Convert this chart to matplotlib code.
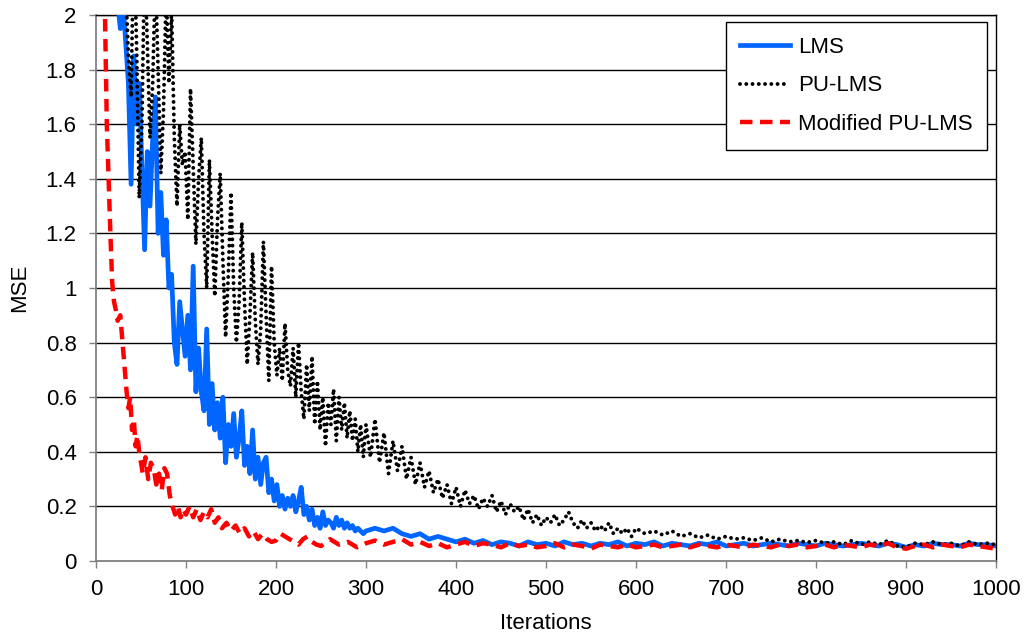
import matplotlib
matplotlib.use("Agg")
import matplotlib.pyplot as plt

plt.rcParams['font.family'] = ['Liberation Sans', 'DejaVu Sans']

# ---------------- data ----------------
lms_iter = [18, 21, 24, 27, 30, 33, 36, 39, 42, 45, 48, 51, 54, 57, 60, 63, 66, 69, 72, 75,
            78, 81, 84, 87, 90, 93, 96, 99, 102, 105, 108, 111, 114, 117, 120, 123, 126, 129,
            132, 135, 138, 141, 144, 147, 150, 153, 156, 159, 162, 165, 168, 171, 174, 177,
            180, 183, 186, 189, 192, 195, 198, 201, 204, 207, 210, 213, 216, 219, 222, 225,
            228, 231, 234, 237, 240, 243, 246, 249, 252, 255, 258, 261, 264, 267, 270, 273,
            276, 279, 282, 285, 288, 291, 294, 297,
            300, 310, 320, 330, 340, 350, 360, 370, 380, 390, 400, 410, 420, 430, 440, 450,
            460, 470, 480, 490, 500, 510, 520, 530, 540, 550, 560, 570, 580, 590, 600, 610,
            620, 630, 640, 650, 660, 670, 680, 690, 700, 710, 720, 730, 740, 750, 760, 770,
            780, 790, 800, 810, 820, 830, 840, 850, 860, 870, 880, 890, 900, 910, 920, 930,
            940, 950, 960, 970, 980, 990, 1000]
lms_mse = [2.5, 2.3, 2.05, 1.95, 2.05, 1.9, 1.75, 1.38, 1.85, 1.6, 1.75, 1.45, 1.14, 1.5, 1.3,
           1.55, 1.70, 1.2, 1.35, 1.12, 1.25, 1.0, 1.05, 0.8, 0.72, 0.95, 0.85, 0.75, 0.9, 0.7,
           1.08, 0.62, 0.78, 0.62, 0.55, 0.85, 0.5, 0.65, 0.48, 0.58, 0.45, 0.6, 0.36, 0.5,
           0.42, 0.54, 0.38, 0.45, 0.55, 0.35, 0.42, 0.32, 0.48, 0.3, 0.38, 0.28, 0.36, 0.38,
           0.25, 0.3, 0.22, 0.28, 0.2, 0.24, 0.19, 0.23, 0.2, 0.24, 0.18, 0.22, 0.27, 0.17,
           0.2, 0.15, 0.19, 0.13, 0.16, 0.12, 0.18, 0.13, 0.15, 0.14, 0.12, 0.16, 0.13, 0.15,
           0.12, 0.14, 0.12, 0.13, 0.11, 0.12, 0.11, 0.10,
           0.11, 0.12, 0.11, 0.12, 0.10, 0.09, 0.10, 0.08, 0.09, 0.08, 0.07, 0.08, 0.065,
           0.075, 0.06, 0.07, 0.065, 0.055, 0.07, 0.06, 0.065, 0.055, 0.07, 0.06, 0.065,
           0.055, 0.065, 0.06, 0.07, 0.055, 0.065, 0.06, 0.07, 0.055, 0.065, 0.06, 0.055,
           0.065, 0.06, 0.07, 0.055, 0.06, 0.065, 0.055, 0.06, 0.065, 0.06, 0.055, 0.065,
           0.06, 0.055, 0.065, 0.06, 0.055, 0.06, 0.065, 0.06, 0.055, 0.065, 0.06, 0.05,
           0.06, 0.055, 0.065, 0.06, 0.06, 0.055, 0.065, 0.06, 0.06, 0.055]

pu_iter = [30, 33, 36, 39, 42, 45, 48, 51, 54, 57, 60, 63, 66, 69, 72, 75, 78, 81, 84, 87,
           90, 93, 96, 99, 102, 105, 108, 111, 114, 117, 120, 123, 126, 129, 132, 135, 138,
           141, 144, 147, 150, 153, 156, 159, 162, 165, 168, 171, 174, 177, 180, 183, 186,
           189, 192, 195, 198, 201, 204, 207, 210, 213, 216, 219, 222, 225, 228, 231, 234,
           237, 240, 243, 246, 249, 252, 255, 258, 261, 264, 267, 270, 273, 276, 279, 282,
           285, 288, 291, 294, 297,
           300, 305, 310, 315, 320, 325, 330, 335, 340, 345, 350, 355, 360, 365, 370, 375,
           380, 385, 390, 395, 400, 405, 410, 415, 420, 425, 430, 435, 440, 445, 450, 455,
           460, 465, 470, 475, 480, 485, 490, 495, 500, 505, 510, 515, 520, 525, 530, 535,
           540, 545, 550, 555, 560, 565, 570, 575, 580, 585, 590, 595,
           600, 610, 620, 630, 640, 650, 660, 670, 680, 690, 700, 710, 720, 730, 740, 750,
           760, 770, 780, 790, 800, 810, 820, 830, 840, 850, 860, 870, 880, 890, 900, 910,
           920, 930, 940, 950, 960, 970, 980, 990, 1000]
pu_mse = [2.4, 2.1, 1.85, 1.7, 2.3, 1.9, 1.33, 1.6, 2.2, 1.9, 1.55, 1.75, 2.15, 1.8, 1.42,
          1.65, 2.1, 1.75, 2.02, 1.55, 1.3, 1.6, 1.45, 1.5, 1.25, 1.73, 1.45, 1.16, 1.4,
          1.55, 1.2, 1.0, 1.47, 1.2, 0.97, 1.25, 1.42, 1.1, 0.82, 1.05, 1.35, 1.0, 0.8, 0.95,
          1.24, 0.95, 0.72, 0.9, 1.13, 0.88, 0.72, 0.85, 1.17, 0.9, 0.66, 1.08, 0.8, 0.68,
          0.78, 0.66, 0.87, 0.7, 0.64, 0.78, 0.6, 0.8, 0.62, 0.52, 0.72, 0.55, 0.75, 0.5,
          0.66, 0.48, 0.6, 0.42, 0.58, 0.5, 0.63, 0.44, 0.6, 0.48, 0.58, 0.45, 0.55, 0.44,
          0.52, 0.4, 0.5, 0.38,
          0.5, 0.38, 0.52, 0.36, 0.47, 0.32, 0.44, 0.33, 0.42, 0.3, 0.38, 0.28, 0.36, 0.27,
          0.33, 0.25, 0.3, 0.23, 0.28, 0.21, 0.27, 0.2, 0.26, 0.21, 0.24, 0.19, 0.23, 0.2,
          0.24, 0.18, 0.22, 0.17, 0.21, 0.18, 0.2, 0.15, 0.19, 0.14, 0.17, 0.13, 0.16, 0.14,
          0.17, 0.13, 0.15, 0.18, 0.14, 0.12, 0.15, 0.12, 0.14, 0.11, 0.13, 0.11, 0.14, 0.10,
          0.12, 0.10, 0.12, 0.09,
          0.12, 0.10, 0.11, 0.095, 0.11, 0.09, 0.10, 0.085, 0.095, 0.08, 0.09, 0.08, 0.085,
          0.075, 0.085, 0.07, 0.08, 0.07, 0.075, 0.068, 0.075, 0.065, 0.07, 0.06, 0.075,
          0.06, 0.07, 0.06, 0.075, 0.055, 0.05, 0.065, 0.06, 0.07, 0.06, 0.065, 0.055, 0.07,
          0.06, 0.065, 0.06]

mpu_iter = [5, 8, 10, 11, 12, 14, 16, 18, 20, 22, 24, 27, 30, 32, 34, 36, 38, 40, 42, 44, 46,
            48, 50, 52, 55, 58, 61, 64, 67, 70, 73, 76, 79, 82, 85, 88, 91, 94, 97, 100, 104,
            108, 112, 116, 120, 124, 128, 132, 136, 140, 145, 150, 155, 160, 165, 170, 175,
            180, 185, 190, 195, 200, 205, 210, 215, 220, 225, 230, 235, 240, 245, 250, 260,
            270, 280, 290,
            300, 310, 320, 330, 340, 350, 360, 370, 380, 390, 400, 410, 420, 430, 440, 450,
            460, 470, 480, 490, 500, 510, 520, 530, 540, 550, 560, 570, 580, 590, 600, 610,
            620, 630, 640, 650, 660, 670, 680, 690, 700, 710, 720, 730, 740, 750, 760, 770,
            780, 790, 800, 810, 820, 830, 840, 850, 860, 870, 880, 890, 900, 910, 920, 930,
            940, 950, 960, 970, 980, 990, 1000]
mpu_mse = [2.8, 2.3, 2.0, 1.8, 1.6, 1.4, 1.2, 1.02, 0.95, 0.92, 0.88, 0.9, 0.78, 0.7, 0.62,
           0.56, 0.6, 0.48, 0.52, 0.42, 0.46, 0.4, 0.36, 0.32, 0.38, 0.3, 0.36, 0.34, 0.28,
           0.32, 0.26, 0.34, 0.32, 0.24, 0.2, 0.17, 0.2, 0.16, 0.19, 0.17, 0.2, 0.16, 0.19,
           0.15, 0.18, 0.16, 0.19, 0.14, 0.16, 0.12, 0.14, 0.11, 0.13, 0.10, 0.12, 0.09, 0.11,
           0.08, 0.10, 0.08, 0.07, 0.075, 0.10, 0.09, 0.08, 0.07, 0.06, 0.08, 0.09, 0.07,
           0.06, 0.055, 0.08, 0.06, 0.07, 0.05,
           0.065, 0.075, 0.06, 0.07, 0.08, 0.06, 0.07, 0.055, 0.065, 0.05, 0.06, 0.07, 0.055,
           0.065, 0.06, 0.05, 0.065, 0.055, 0.06, 0.05, 0.055, 0.065, 0.05, 0.06, 0.055,
           0.045, 0.06, 0.055, 0.05, 0.06, 0.05, 0.055, 0.06, 0.05, 0.055, 0.06, 0.05, 0.06,
           0.055, 0.05, 0.06, 0.055, 0.05, 0.06, 0.055, 0.05, 0.06, 0.055, 0.06, 0.05, 0.055,
           0.06, 0.05, 0.06, 0.055, 0.05, 0.06, 0.055, 0.065, 0.05, 0.045, 0.055, 0.06, 0.05,
           0.06, 0.055, 0.05, 0.06, 0.055, 0.05, 0.045]

x_ticks = [0, 100, 200, 300, 400, 500, 600, 700, 800, 900, 1000]
y_ticks = [0, 0.2, 0.4, 0.6, 0.8, 1.0, 1.2, 1.4, 1.6, 1.8, 2.0]
y_tick_labels = ['0', '0.2', '0.4', '0.6', '0.8', '1', '1.2', '1.4', '1.6', '1.8', '2']

# ---------------- figure ----------------
fig = plt.figure(figsize=(10.29, 6.37), dpi=100)
ax = fig.add_axes([96 / 1029, 1 - 561 / 637, 900 / 1029, 546 / 637])

ax.set_xlim(0, 1000)
ax.set_ylim(0, 2)

for yv in y_ticks[1:]:
    ax.axhline(yv, color='black', lw=1.0, zorder=1)

ax.plot(lms_iter, lms_mse, color='#0066FF', lw=3.4, solid_joinstyle='round',
        label='LMS', zorder=3)
ax.plot(pu_iter, pu_mse, color='black', lw=2.8, linestyle=(0, (0.01, 1.6)),
        dash_capstyle='round', label='PU-LMS', zorder=4)
ax.plot(mpu_iter, mpu_mse, color='#FF0000', lw=3.2, linestyle=(0, (2.8, 1.7)),
        label='Modified PU-LMS', zorder=5)

ax.set_xticks(x_ticks)
ax.set_yticks(y_ticks)
ax.set_yticklabels(y_tick_labels)
ax.tick_params(axis='both', direction='out', length=5, width=1, color='#808080',
               labelsize=16)
ax.tick_params(axis='y', pad=9)
ax.tick_params(axis='x', pad=8)

for s in ['left', 'bottom']:
    ax.spines[s].set_color('#808080')
    ax.spines[s].set_linewidth(1.3)
for s in ['top', 'right']:
    ax.spines[s].set_color('black')
    ax.spines[s].set_linewidth(1.0)

ax.set_xlabel('Iterations', fontsize=16, labelpad=9)
ax.set_ylabel('MSE', fontsize=16, labelpad=11)

leg = ax.legend(loc='upper right', bbox_to_anchor=(0.99, 0.987), fontsize=16,
                frameon=True, fancybox=False, edgecolor='black', framealpha=1,
                handlelength=2.25, labelspacing=0.8, borderpad=0.65,
                handletextpad=0.35, borderaxespad=0)
leg.get_frame().set_linewidth(1.0)

fig.savefig('out.png', dpi=100)
